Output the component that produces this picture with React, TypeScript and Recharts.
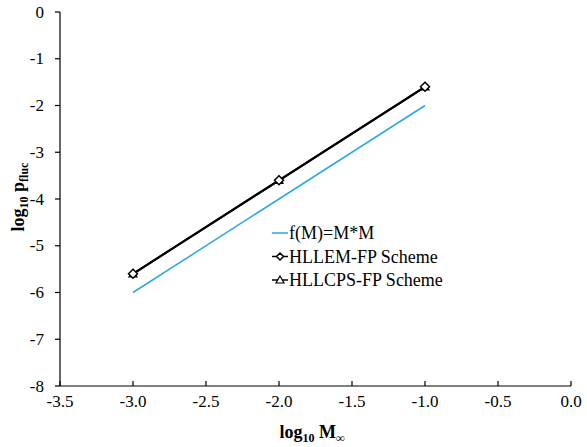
import { LineChart, Line, XAxis, YAxis } from "recharts";

const xTicks = [-3.5, -3.0, -2.5, -2.0, -1.5, -1.0, -0.5, 0.0];
const yTicks = [-8, -7, -6, -5, -4, -3, -2, -1, 0];

const refX = [-3, -1];
const refY = [-6, -2];

const machX = [-3, -2, -1];
const hllemY = [-5.6, -3.6, -1.6];
const hllcpsY = [-5.6, -3.6, -1.6];

const refData = refX.map((x, i) => ({ x, y: refY[i] }));
const hllemData = machX.map((x, i) => ({ x, y: hllemY[i] }));
const hllcpsData = machX.map((x, i) => ({ x, y: hllcpsY[i] }));

const FONT = "'Times New Roman', 'Liberation Serif', 'DejaVu Serif', serif";
const BLUE = "#2aa8e2";

const Diamond = (props: any) => {
  const { cx, cy, size = 4.5 } = props;
  if (cx == null || cy == null) return null;
  return (
    <path
      d={`M${cx},${cy - size} L${cx + size},${cy} L${cx},${cy + size} L${cx - size},${cy} Z`}
      fill="#fff"
      stroke="#000"
      strokeWidth={1.5}
    />
  );
};

const Triangle = (props: any) => {
  const { cx, cy } = props;
  if (cx == null || cy == null) return null;
  return (
    <path
      d={`M${cx},${cy - 4} L${cx + 4},${cy + 3} L${cx - 4},${cy + 3} Z`}
      fill="#fff"
      stroke="#000"
      strokeWidth={1.2}
    />
  );
};

const AxisTick = (props: any) => {
  const { x, y, payload, anchor, fmt } = props;
  return (
    <text x={x} y={y} textAnchor={anchor} dominantBaseline="central" style={{ fontFamily: FONT }} fontSize={17} fill="#000">
      {fmt ? fmt(payload.value) : payload.value}
    </text>
  );
};

function LegendBox() {
  const rows = [
    { label: "f(M)=M*M", color: BLUE, marker: null },
    { label: "HLLEM-FP Scheme", color: "#000", marker: "diamond" },
    { label: "HLLCPS-FP Scheme", color: "#000", marker: "triangle" },
  ];
  return (
    <g>
      {rows.map((r, i) => {
        const y = 233 + i * 23.5;
        return (
          <g key={r.label}>
            <line x1={272} x2={288} y1={y} y2={y} stroke={r.color} strokeWidth={1.5} />
            {r.marker === "diamond" && <Diamond cx={280} cy={y} size={3.5} />}
            {r.marker === "triangle" && <Triangle cx={280} cy={y} />}
            <text x={289} y={y + 6} style={{ fontFamily: FONT }} fontSize={18} fill="#000">
              {r.label}
            </text>
          </g>
        );
      })}
    </g>
  );
}

export default function App() {
  return (
    <div
      style={{
        position: "absolute",
        left: 0,
        top: 0,
        width: 587,
        height: 447,
        background: "#fff",
        fontFamily: FONT,
      }}
    >
      <LineChart
        width={587}
        height={447}
        margin={{ top: 12, right: 16, bottom: 21, left: 10 }}
      >
        <XAxis
          type="number"
          dataKey="x"
          domain={[-3.5, 0]}
          ticks={xTicks}
          allowDataOverflow
          stroke="#000"
          strokeWidth={1.2}
          tickSize={-5}
          tickMargin={20}
          height={40}
          tick={<AxisTick anchor="middle" fmt={(v: number) => v.toFixed(1)} />}
        />
        <YAxis
          type="number"
          dataKey="y"
          domain={[-8, 0]}
          ticks={yTicks}
          allowDataOverflow
          stroke="#000"
          strokeWidth={1.2}
          tickSize={5}
          tickMargin={11}
          width={50}
          tick={<AxisTick anchor="end" />}
        />
        <Line
          data={refData}
          dataKey="y"
          stroke={BLUE}
          strokeWidth={1.5}
          dot={false}
          isAnimationActive={false}
        />
        <Line
          data={hllcpsData}
          dataKey="y"
          stroke="#000"
          strokeWidth={2}
          dot={<Triangle />}
          isAnimationActive={false}
        />
        <Line
          data={hllemData}
          dataKey="y"
          stroke="#000"
          strokeWidth={2}
          dot={<Diamond />}
          isAnimationActive={false}
        />
        <LegendBox />
        <text x={312} y={438} textAnchor="middle" style={{ fontFamily: FONT }} fontSize={18} fontWeight="bold" fill="#000">
          log<tspan fontSize={12} dy={4}>10</tspan>
          <tspan dy={-4}> M</tspan>
          <tspan fontSize={12} dy={4}>∞</tspan>
        </text>
        <text
          x={0}
          y={0}
          transform="translate(24,197) rotate(-90)"
          textAnchor="middle"
          style={{ fontFamily: FONT }}
          fontSize={18}
          fontWeight="bold"
          fill="#000"
        >
          log<tspan fontSize={12} dy={4}>10</tspan>
          <tspan dy={-4}> p</tspan>
          <tspan fontSize={12} dy={4}>fluc</tspan>
        </text>
      </LineChart>
    </div>
  );
}
